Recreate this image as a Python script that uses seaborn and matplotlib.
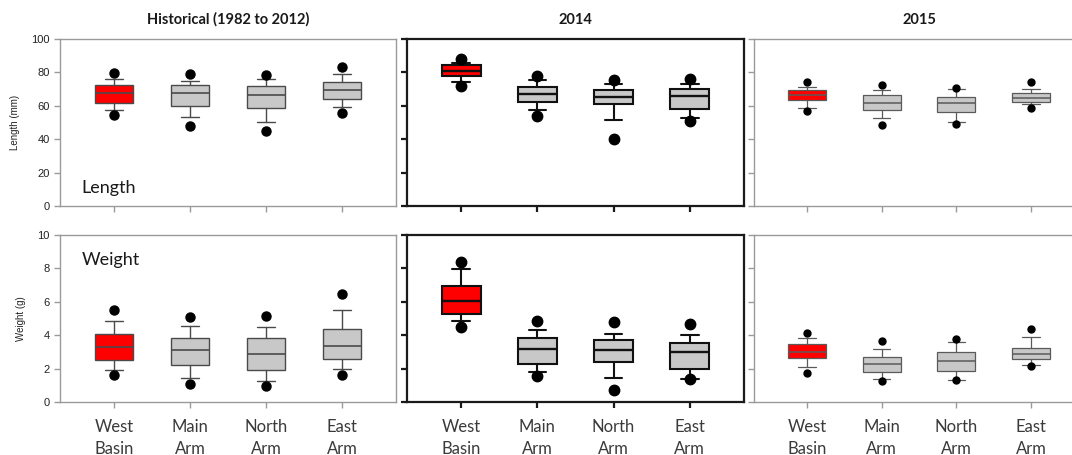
import numpy as np
import matplotlib
matplotlib.use("Agg")
import matplotlib.pyplot as plt
import seaborn as sns

sns.set_style("white")
plt.rcParams['font.family'] = ['Lato', 'DejaVu Sans']

periods = ['Historical (1982 to 2012)', '2014', '2015']
sites = ['West\nBasin', 'Main\nArm', 'North\nArm', 'East\nArm']

# length (mm): 5th, 10th, 25th, median, 75th, 90th, 95th percentiles, one row per period
len_p5 = [[54.2, 47.8, 45.2, 55.4], [72.1, 53.9, 40.2, 50.7], [56.8, 48.8, 49.4, 58.8]]
len_p10 = [[57.4, 53.2, 50.0, 59.2], [74.3, 57.4, 51.3, 52.5], [58.8, 52.4, 50.0, 60.8]]
len_q1 = [[61.4, 60.0, 58.4, 64.2], [77.6, 62.0, 61.0, 58.2], [63.5, 57.4, 56.4, 62.2]]
len_med = [[67.8, 67.6, 66.2, 69.6], [81.0, 67.1, 65.0, 66.1], [66.3, 61.6, 61.6, 64.7]]
len_q3 = [[72.2, 72.2, 72.0, 74.2], [84.2, 71.1, 69.3, 70.1], [69.3, 66.3, 65.1, 67.5]]
len_p90 = [[76.0, 75.0, 75.8, 79.2], [85.9, 75.2, 72.9, 73.3], [71.3, 69.5, 70.3, 70.3]]
len_p95 = [[79.6, 78.8, 78.2, 83.2], [88.3, 77.6, 75.4, 76.2], [74.5, 72.3, 70.5, 74.5]]

# weight (g)
wt_p5 = [[1.63, 1.08, 0.94, 1.63], [4.48, 1.55, 0.71, 1.35], [1.72, 1.25, 1.32, 2.15]]
wt_p10 = [[1.93, 1.41, 1.24, 1.99], [4.88, 1.77, 1.41, 1.39], [2.11, 1.36, 1.34, 2.21]]
wt_q1 = [[2.49, 2.19, 1.93, 2.59], [5.28, 2.28, 2.42, 2.00], [2.63, 1.82, 1.88, 2.55]]
wt_med = [[3.27, 3.09, 2.87, 3.37], [6.03, 3.15, 3.10, 2.98], [3.00, 2.25, 2.45, 2.89]]
wt_q3 = [[4.06, 3.86, 3.82, 4.40], [6.94, 3.81, 3.71, 3.51], [3.46, 2.69, 2.98, 3.24]]
wt_p90 = [[4.84, 4.56, 4.52, 5.52], [7.98, 4.33, 4.09, 4.01], [3.81, 3.20, 3.60, 3.87]]
wt_p95 = [[5.53, 5.06, 5.12, 6.49], [8.41, 4.86, 4.80, 4.68], [4.15, 3.68, 3.79, 4.39]]

# per-column look: frame colour, frame width, box edge colour, box line width, dot size
frame_col = ['#9a9a9a', '#1a1a1a', '#9a9a9a']
frame_lw = [1.0, 1.6, 1.0]
edge_col = ['#4a4a4a', '#111111', '#5a5a5a']
edge_lw = [1.0, 1.5, 0.9]
dot_size = [6.5, 7.5, 5.0]

lefts = [60 / 1072, 407 / 1072, 754 / 1072]
widths = [336 / 1072, 337 / 1072, 330 / 1072]
bottoms = [249 / 455, 53 / 455]
height = 167 / 455

fig = plt.figure(figsize=(10.72, 4.55), dpi=100)


def make_stats(p5, p10, q1, med, q3, p90, p95):
    out = []
    for i in range(len(med)):
        out.append(dict(med=med[i], q1=q1[i], q3=q3[i], whislo=p10[i],
                        whishi=p90[i], fliers=[p5[i], p95[i]]))
    return out


rows = [
    (len_p5, len_p10, len_q1, len_med, len_q3, len_p90, len_p95),
    (wt_p5, wt_p10, wt_q1, wt_med, wt_q3, wt_p90, wt_p95),
]
ylims = [(0, 100), (0, 10)]
yticks = [np.arange(0, 101, 20), np.arange(0, 11, 2)]
ylabels = ['Length (mm)', 'Weight (g)']
inner = ['Length', 'Weight']

for r, arrs in enumerate(rows):
    for c in range(3):
        ax = fig.add_axes([lefts[c], bottoms[r], widths[c], height])
        stats = make_stats(*[a[c] for a in arrs])
        pos = np.arange(len(sites))
        bp = ax.bxp(stats, positions=pos, widths=0.51, capwidths=0.23,
                    patch_artist=True, showfliers=True,
                    boxprops=dict(edgecolor=edge_col[c], linewidth=edge_lw[c]),
                    medianprops=dict(color=edge_col[c], linewidth=edge_lw[c] + 0.2),
                    whiskerprops=dict(color=edge_col[c], linewidth=edge_lw[c]),
                    capprops=dict(color=edge_col[c], linewidth=edge_lw[c]),
                    flierprops=dict(marker='o', markerfacecolor='black',
                                    markeredgecolor='black', markersize=dot_size[c]))
        for k, patch in enumerate(bp['boxes']):
            patch.set_facecolor('#ff0000' if k == 0 else '#c8c8c8')
        ax.set_xlim(-0.71, 3.71)
        ax.set_ylim(*ylims[r])
        ax.set_yticks(yticks[r])
        ax.set_xticks(pos)
        for s in ax.spines.values():
            s.set_color(frame_col[c])
            s.set_linewidth(frame_lw[c])
        ax.tick_params(axis='both', direction='out', length=4, width=frame_lw[c],
                       color=frame_col[c], left=True, bottom=True)
        if c == 0:
            ax.set_yticklabels([str(v) for v in yticks[r]],
                               fontsize=8, family='Liberation Sans', color='#222222')
            ax.set_ylabel(ylabels[r], fontsize=7, family='Liberation Sans',
                          color='#222222', labelpad=8)
        else:
            ax.set_yticklabels([])
        if r == 1:
            ax.set_xticklabels(sites, fontsize=12, color='#3a3a3a', linespacing=1.45)
            ax.tick_params(axis='x', pad=8)
        else:
            ax.set_xticklabels([])
            ax.set_title(periods[c], fontsize=10.5, fontweight='bold', pad=11,
                         color='#1a1a1a')
        if c == 0:
            ty = 0.11 if r == 0 else 0.85
            ax.text(0.065, ty, inner[r], transform=ax.transAxes, fontsize=13,
                    color='#1a1a1a', va='center', ha='left')

fig.savefig('out.png', dpi=100)
